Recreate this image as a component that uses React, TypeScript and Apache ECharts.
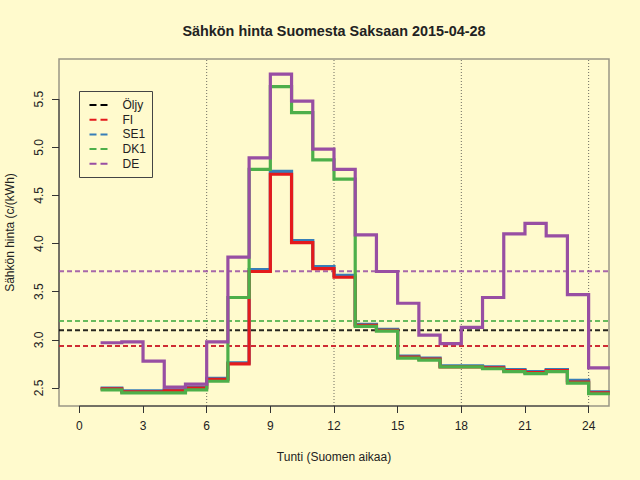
import React, { useEffect, useRef } from "react";
import * as echarts from "echarts";

const hours = [1, 2, 3, 4, 5, 6, 7, 8, 9, 10, 11, 12, 13, 14, 15, 16, 17, 18, 19, 20, 21, 22, 23, 24];
const fiValues = [2.49, 2.46, 2.46, 2.47, 2.5, 2.59, 2.75, 3.71, 4.72, 4.01, 3.74, 3.65, 3.15, 3.1, 2.82, 2.8, 2.72, 2.72, 2.71, 2.68, 2.66, 2.68, 2.56, 2.45];
const se1Values = [2.5, 2.47, 2.47, 2.48, 2.51, 2.6, 2.76, 3.73, 4.75, 4.03, 3.76, 3.67, 3.16, 3.11, 2.83, 2.81, 2.73, 2.73, 2.72, 2.69, 2.67, 2.69, 2.58, 2.46];
const dk1Values = [2.48, 2.45, 2.45, 2.45, 2.48, 2.57, 3.44, 4.77, 5.63, 5.36, 4.87, 4.67, 3.14, 3.09, 2.81, 2.79, 2.72, 2.72, 2.7, 2.67, 2.65, 2.67, 2.55, 2.44];
const deValues = [2.97, 2.98, 2.78, 2.51, 2.54, 2.98, 3.86, 4.89, 5.76, 5.48, 4.98, 4.77, 4.09, 3.71, 3.38, 3.05, 2.96, 3.13, 3.44, 4.1, 4.21, 4.08, 3.47, 2.71];

const avgOljy = 3.1;
const avgFI = 2.935;
const avgSE1 = 2.935;
const avgDK1 = 3.195;
const avgDE = 3.712;

const xTicks = [0, 3, 6, 9, 12, 15, 18, 21, 24];
const yTicks = [2.5, 3.0, 3.5, 4.0, 4.5, 5.0, 5.5];
const guideHours = [6, 12, 18, 24];

const legendNames = ["Öljy", "FI", "SE1", "DK1", "DE"];

const X_MIN = -0.96;
const X_MAX = 24.96;
const Y_MIN = 2.313;
const Y_MAX = 5.917;

const COLORS = {
  oljy: "#000000",
  fi: "#E41A1C",
  se1: "#377EB8",
  dk1: "#4DAF4A",
  de: "#984EA3",
};
const legendColors = [COLORS.oljy, COLORS.fi, COLORS.se1, COLORS.dk1, COLORS.de];

const FONT = "Liberation Sans, Arial, Helvetica, sans-serif";

function stepData(vals: number[]) {
  const pts: number[][] = hours.map((h, i) => [h, vals[i]]);
  pts.push([hours[hours.length - 1] + 1, vals[vals.length - 1]]);
  return pts;
}

function avgSeries(name: string, value: number, color: string) {
  return {
    name,
    type: "line",
    data: [
      [X_MIN, value],
      [X_MAX, value],
    ],
    symbol: "none",
    silent: true,
    lineStyle: { color, width: 2, type: [5, 3], opacity: 0.85 },
  };
}

function stepSeries(name: string, vals: number[], color: string) {
  return {
    name,
    type: "line",
    step: "end",
    data: stepData(vals),
    symbol: "none",
    silent: true,
    lineStyle: { color, width: 3.2, cap: "butt", join: "miter" },
  };
}

export default function App() {
  const ref = useRef<HTMLDivElement>(null);

  useEffect(() => {
    if (!ref.current) return;
    const chart = echarts.init(ref.current, null, { renderer: "svg" });

    const guideSeries = guideHours.map((g) => ({
      type: "line",
      data: [
        [g, Y_MIN],
        [g, Y_MAX],
      ],
      symbol: "none",
      silent: true,
      lineStyle: { color: "#6e6c60", width: 1, type: [1, 2] },
    }));

    const axisSeries = [
      {
        type: "line",
        data: [
          [xTicks[0], Y_MIN],
          [xTicks[xTicks.length - 1], Y_MIN],
        ],
        symbol: "none",
        silent: true,
        clip: false,
        lineStyle: { color: "#333", width: 1 },
      },
      {
        type: "line",
        data: [
          [X_MIN, yTicks[0]],
          [X_MIN, yTicks[yTicks.length - 1]],
        ],
        symbol: "none",
        silent: true,
        clip: false,
        lineStyle: { color: "#333", width: 1 },
      },
    ];

    const legendX = 79.5;
    const legendY = 91.5;
    const legendStep = 14.7;
    const legendChildren: any[] = [
      {
        type: "rect",
        shape: { x: legendX, y: legendY, width: 73, height: 86 },
        style: { fill: "none", stroke: "#444", lineWidth: 1 },
      },
    ];
    legendNames.forEach((n, i) => {
      const cy = legendY + 13.5 + i * legendStep;
      legendChildren.push({
        type: "line",
        shape: { x1: legendX + 10, y1: cy, x2: legendX + 30, y2: cy },
        style: { stroke: legendColors[i], lineWidth: 2, lineDash: [7, 4] },
      });
      legendChildren.push({
        type: "text",
        x: legendX + 43,
        y: cy,
        style: {
          text: n,
          font: "12px " + FONT,
          fill: "#222",
          textVerticalAlign: "middle",
          textAlign: "left",
        },
      });
    });

    chart.setOption({
      animation: false,
      backgroundColor: "#FFFACD",
      grid: {
        left: 59,
        top: 59,
        right: 31,
        bottom: 74,
        show: true,
        borderColor: "#9a9685",
        borderWidth: 1.5,
        backgroundColor: "transparent",
        containLabel: false,
        outerBoundsMode: "none",
      },
      xAxis: {
        type: "value",
        min: X_MIN,
        max: X_MAX,
        axisLine: { show: false, onZero: false },
        splitLine: { show: false },
        axisTick: { show: true, length: 7, customValues: xTicks, lineStyle: { color: "#333" } },
        axisLabel: {
          customValues: xTicks,
          margin: 14,
          fontSize: 12,
          color: "#222",
          fontFamily: FONT,
        },
        name: "Tunti (Suomen aikaa)",
        nameLocation: "middle",
        nameGap: 45,
        nameTextStyle: { fontSize: 12, color: "#222", fontFamily: FONT },
      },
      yAxis: {
        type: "value",
        min: Y_MIN,
        max: Y_MAX,
        axisLine: { show: false, onZero: false },
        splitLine: { show: false },
        axisTick: { show: true, length: 7, customValues: yTicks, lineStyle: { color: "#333" } },
        axisLabel: {
          customValues: yTicks,
          rotate: 90,
          margin: 14,
          fontSize: 12,
          color: "#222",
          fontFamily: FONT,
          formatter: (v: number) => v.toFixed(1),
        },
        name: "Sähkön hinta (c/(kWh)",
        nameLocation: "middle",
        nameGap: 43,
        nameTextStyle: { fontSize: 12, color: "#222", fontFamily: FONT },
      },
      graphic: [
        {
          type: "text",
          x: 334,
          y: 31,
          style: {
            text: "Sähkön hinta Suomesta Saksaan 2015-04-28",
            font: "bold 14.4px " + FONT,
            fill: "#222",
            textAlign: "center",
            textVerticalAlign: "middle",
          },
        },
        { type: "group", children: legendChildren },
      ],
      series: [
        ...guideSeries,
        ...axisSeries,
        avgSeries("Öljy", avgOljy, COLORS.oljy),
        avgSeries("SE1 avg", avgSE1, COLORS.se1),
        avgSeries("FI avg", avgFI, COLORS.fi),
        avgSeries("DK1 avg", avgDK1, COLORS.dk1),
        avgSeries("DE avg", avgDE, COLORS.de),
        stepSeries("SE1", se1Values, COLORS.se1),
        stepSeries("FI", fiValues, COLORS.fi),
        stepSeries("DK1", dk1Values, COLORS.dk1),
        stepSeries("DE", deValues, COLORS.de),
      ],
    });

    return () => chart.dispose();
  }, []);

  return (
    <div
      ref={ref}
      style={{ position: "fixed", left: 0, top: 0, width: 640, height: 480 }}
    />
  );
}
